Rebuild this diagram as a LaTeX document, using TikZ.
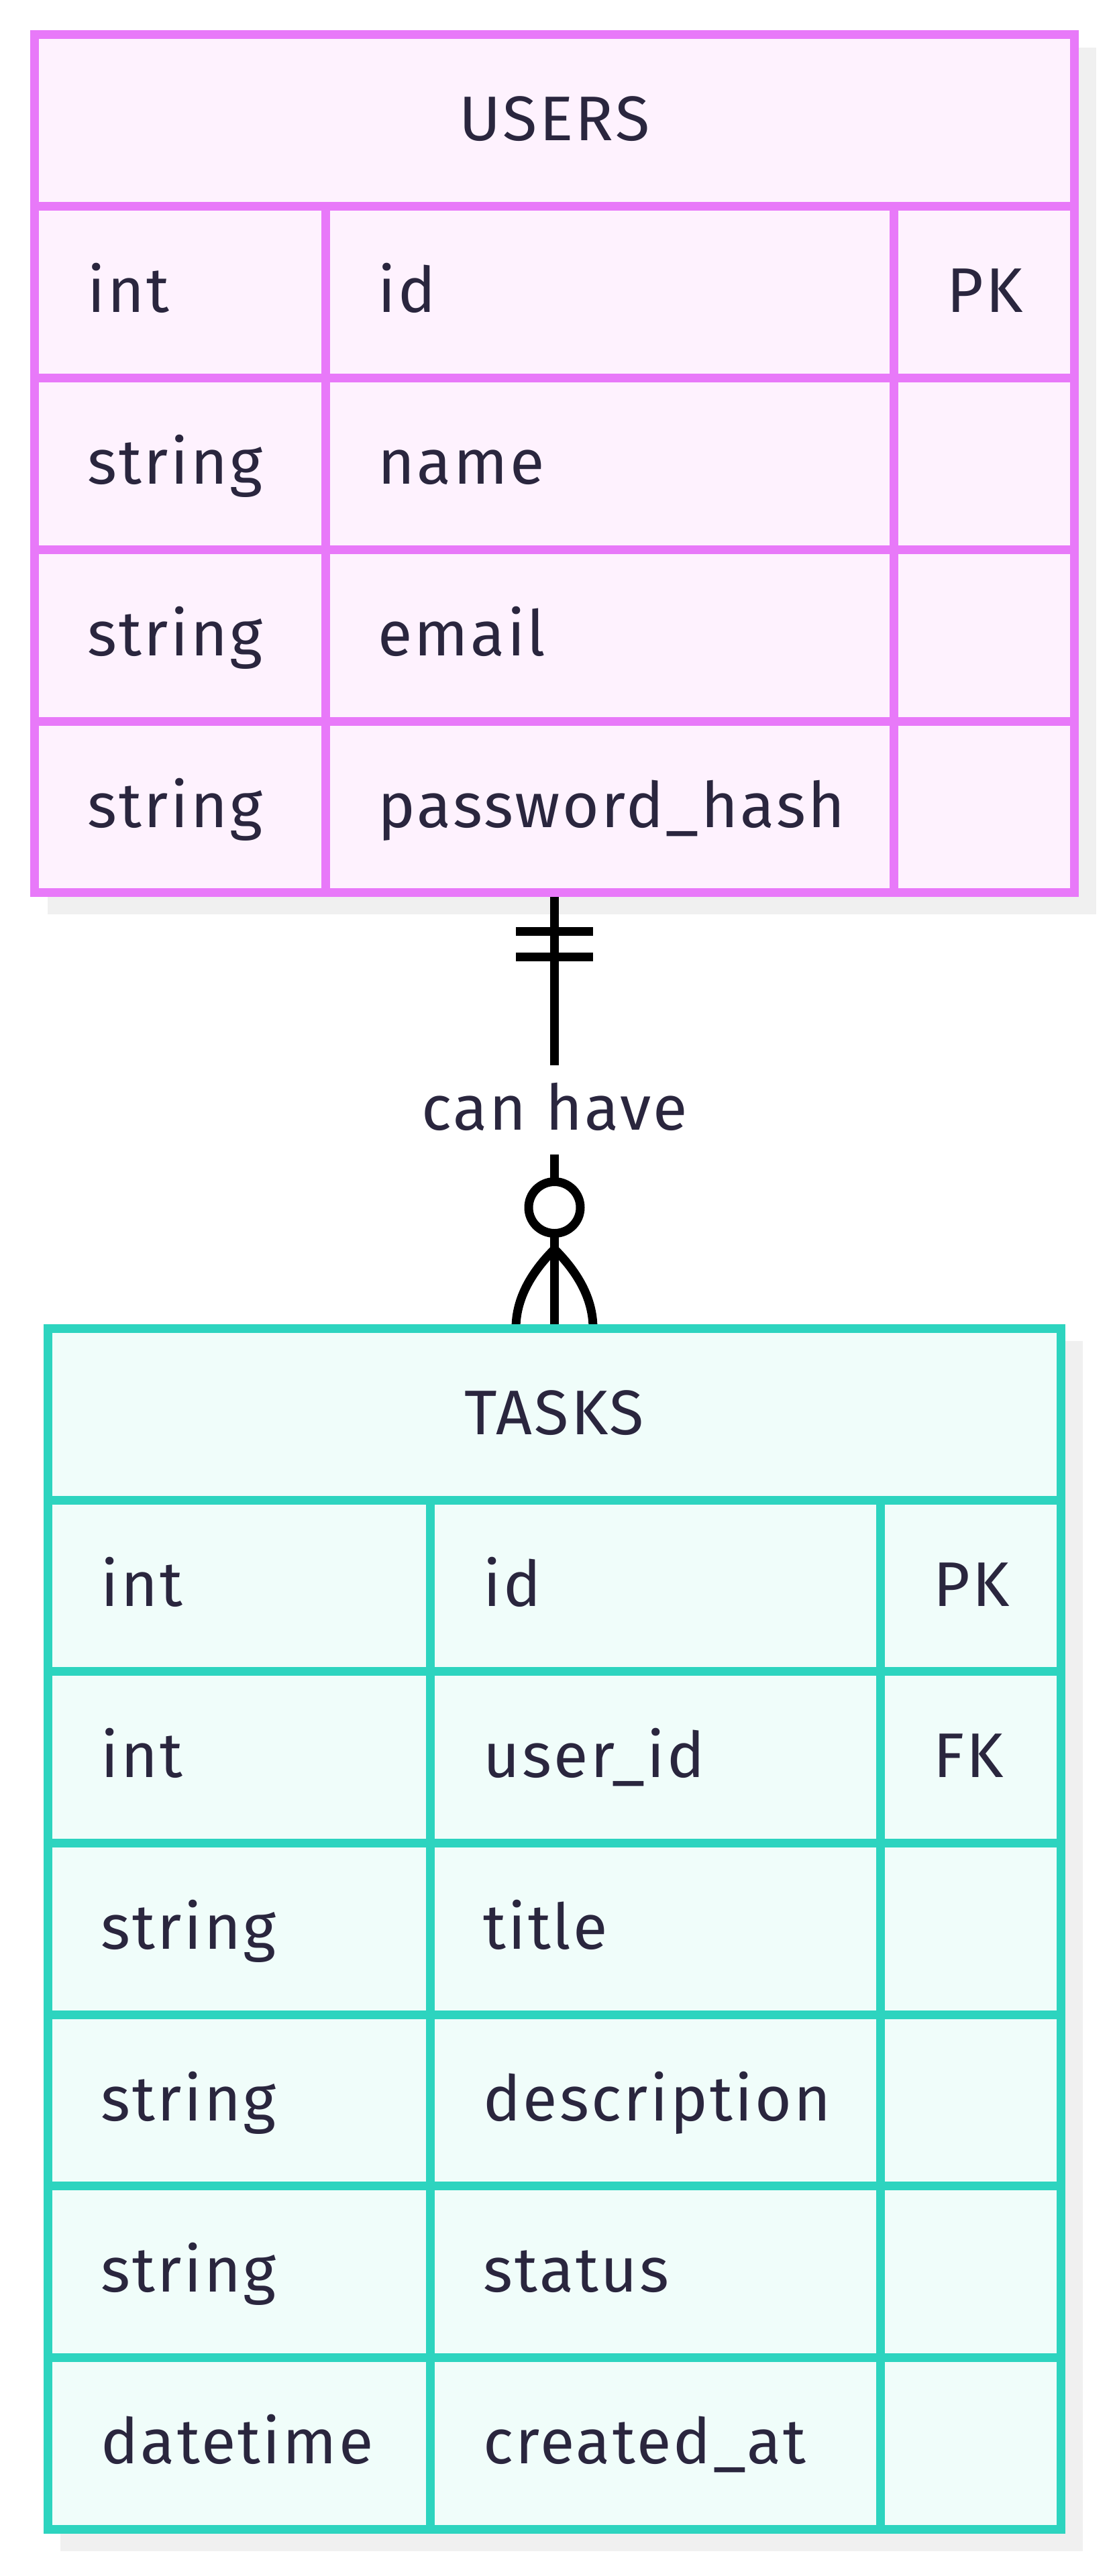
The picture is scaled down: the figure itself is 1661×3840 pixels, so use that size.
\documentclass[tikz,border=0pt]{standalone}
\usepackage{fontspec}
\setmainfont[LetterSpace=3.5]{Fira Sans}
\definecolor{pinkline}{HTML}{E879F9}
\definecolor{pinkfill}{HTML}{FEF2FE}
\definecolor{tealline}{HTML}{2DD4BF}
\definecolor{tealfill}{HTML}{F0FDFA}
\definecolor{shadowgray}{HTML}{F0F0F0}
\definecolor{txt}{HTML}{2A263E}
\begin{document}
\begin{tikzpicture}[x=0.5pt,y=-0.5pt,
  txtstyle/.style={inner sep=0pt, text=txt, font=\fontsize{47pt}{56pt}\selectfont},
  cell/.style={txtstyle, anchor=base west},
  headtext/.style={txtstyle, anchor=base},
  tablebox/.style={line width=6.5pt, inner sep=0pt, outer sep=0pt, anchor=north west},
  shadowbox/.style={fill=shadowgray, draw=none},
  pinkgrid/.style={draw=pinkline, line width=6.5pt},
  tealgrid/.style={draw=tealline, line width=6.5pt},
  conn/.style={draw=black, line width=6.5pt},
]
\useasboundingbox (0,0) rectangle (1661,3840);

% shadows
\fill[shadowbox] (71,71) rectangle (1634,1363);
\fill[shadowbox] (90,1999) rectangle (1614,3803);

\path (51.5,51.5) coordinate (uTL) (1601.5,1330) coordinate (uBR);
\path (71,1980) coordinate (tTL) (1581.5,3770) coordinate (tBR);
\coordinate (usersS) at (826.5,1330);
\coordinate (tasksN) at (826.5,1980);

% connector
\draw[conn] (usersS) -- (tasksN);
\draw[conn] ([shift={(-57.5,58)}]usersS) -- ([shift={(57.5,58)}]usersS);
\draw[conn] ([shift={(-57.5,96.5)}]usersS) -- ([shift={(57.5,96.5)}]usersS);
\node[txtstyle, fill=white, text height=48pt, text depth=18.5pt, inner xsep=6pt] (rel) at (826.5,1654.5) {can have};
\draw[conn, fill=white] ([shift={(0,-180)}]tasksN) circle[radius=19.25pt];
\draw[conn] ([shift={(0,-118)}]tasksN) .. controls ([shift={(-28,-90)}]tasksN) and ([shift={(-57.5,-50)}]tasksN) .. ([shift={(-57.5,0)}]tasksN);
\draw[conn] ([shift={(0,-118)}]tasksN) .. controls ([shift={(28,-90)}]tasksN) and ([shift={(57.5,-50)}]tasksN) .. ([shift={(57.5,0)}]tasksN);

% USERS table
\node[tablebox, draw=pinkline, fill=pinkfill, minimum width=775pt, minimum height=639.25pt] (users) at (uTL) {};
\foreach \yy in {307,563,819,1075} \draw[pinkgrid] (51.5,\yy) -- (1601.5,\yy);
\draw[pinkgrid] (485,307) -- (485,1330);
\draw[pinkgrid] (1332.5,307) -- (1332.5,1330);
\node[headtext] (uh) at (826.5,209) {USERS};
\node[cell] (u1a) at (130,465) {int};
\node[cell] (u1b) at (563,465) {id};
\node[cell] (u1c) at (1411,465) {PK};
\node[cell] (u2a) at (130,721) {string};
\node[cell] (u2b) at (563,721) {name};
\node[cell] (u3a) at (130,977) {string};
\node[cell] (u3b) at (563,977) {email};
\node[cell] (u4a) at (130,1233) {string};
\node[cell] (u4b) at (563,1233) {password\_hash};

% TASKS table
\node[tablebox, draw=tealline, fill=tealfill, minimum width=755.25pt, minimum height=895pt] (tasks) at (tTL) {};
\foreach \yy in {2236,2491.7,2747.3,3003,3258.7,3514.3} \draw[tealgrid] (71,\yy) -- (1581.5,\yy);
\draw[tealgrid] (641,2236) -- (641,3770);
\draw[tealgrid] (1312.5,2236) -- (1312.5,3770);
\node[headtext] (th) at (826.25,2138) {TASKS};
\node[cell] (t1a) at (150,2394) {int};
\node[cell] (t1b) at (720,2394) {id};
\node[cell] (t1c) at (1391,2394) {PK};
\node[cell] (t2a) at (150,2649.5) {int};
\node[cell] (t2b) at (720,2649.5) {user\_id};
\node[cell] (t2c) at (1391,2649.5) {FK};
\node[cell] (t3a) at (150,2905) {string};
\node[cell] (t3b) at (720,2905) {title};
\node[cell] (t4a) at (150,3161) {string};
\node[cell] (t4b) at (720,3161) {description};
\node[cell] (t5a) at (150,3416.5) {string};
\node[cell] (t5b) at (720,3416.5) {status};
\node[cell] (t6a) at (150,3672) {datetime};
\node[cell] (t6b) at (720,3672) {created\_at};
\end{tikzpicture}
\end{document}
